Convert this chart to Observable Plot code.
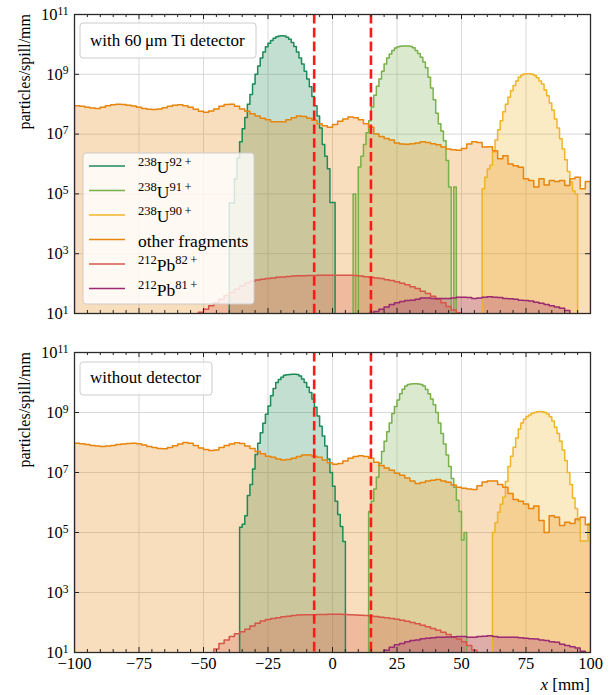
<!DOCTYPE html>
<html>
<head>
<meta charset="utf-8">
<script src="https://cdn.jsdelivr.net/npm/d3@7"></script>
<script src="https://cdn.jsdelivr.net/npm/@observablehq/plot@0.6"></script>
<style>
  html, body { margin: 0; padding: 0; background: #fff; }
  #chart svg { display: block; }
</style>
</head>
<body>
<div id="chart"></div>
<script>
// ---------- axes / ticks ----------
const xMajor = [-100, -75, -50, -25, 0, 25, 50, 75, 100];
const xMinor = [-95, -90, -85, -80, -70, -65, -60, -55, -45, -40, -35, -30, -20, -15, -10, -5,
                5, 10, 15, 20, 30, 35, 40, 45, 55, 60, 65, 70, 80, 85, 90, 95];
const yMajor = [1e1, 1e3, 1e5, 1e7, 1e9, 1e11];
const yGrid = [1e3, 1e5, 1e7, 1e9];
const cutPositions = [-7.1, 14.9];

// ---------- legend ----------
const seriesColors = ["#1f8a5a", "#79b04a", "#f0b429", "#e8850c", "#d6574a", "#9c2a72"];
const legendMass   = ["238", "238", "238", "", "212", "212"];
const legendElem   = ["U", "U", "U", "other fragments", "Pb", "Pb"];
const legendCharge = ["92\u2009+", "91\u2009+", "90\u2009+", "", "82\u2009+", "81\u2009+"];
const panelTitles = ["with 60\u2009\u03bcm Ti detector", "without detector"];

// ---------- data: top panel (with detector) ----------
// 1 mm bins
const topU92Start = -40;
const topU92 = [5e4, 5e4, 3.2e5, 1.6e6, 5.6e6, 1.5e7, 3.6e7, 1e8, 2.1e8, 4.7e8,
  1e9, 1.9e9, 3.5e9, 5.6e9, 8.3e9, 1.1e10, 1.35e10, 1.6e10, 1.8e10, 1.9e10,
  1.95e10, 1.9e10, 1.75e10, 1.5e10, 1.15e10, 8.5e9, 5.6e9, 3.5e9, 2.2e9, 1.26e9,
  7e8, 3.8e8, 1.8e8, 8.9e7, 4e7, 1.6e7, 4.5e6, 1.8e6, 7e5, 5.2e4, 5.2e4];
const topU91Start = 8;
const topU91 = [1e5, 1, 8e5, 1.8e6, 4.5e6, 1.1e7, 2.8e7, 8e7, 2e8, 4e8,
  7e8, 1.26e9, 2.2e9, 3.5e9, 4.8e9, 6.3e9, 7.6e9, 8.3e9, 8.7e9, 8.9e9,
  8.9e9, 8.9e9, 8.5e9, 7.8e9, 6.3e9, 5e9, 3.7e9, 2.6e9, 1.66e9, 8e8,
  3.5e8, 1.4e8, 5e7, 2.2e7, 1.26e7, 6e6, 1.3e6, 1.7e5, 1, 1.7e5];
const topU90Start = 58;
const topU90 = [1.5e5, 3.6e5, 6.8e5, 9e5, 2.5e6, 6.3e6, 1.4e7, 2.8e7, 5.6e7, 1e8,
  1.7e8, 2.8e8, 4.2e8, 6e8, 8e8, 9.5e8, 1.02e9, 1.05e9, 1.05e9, 1e9,
  9.1e8, 7.6e8, 6e8, 4.7e8, 3e8, 1.9e8, 1.1e8, 6.3e7, 3.2e7, 1.6e7,
  7e6, 3.2e6, 1.4e6, 5.6e5, 2.5e5, 1.26e5, 1e5];
// 2 mm bins
const topOtherStart = -100;
const topOther = [8.9e7, 8.5e7, 7.9e7, 7.4e7, 7.2e7, 7.9e7, 8.9e7, 9.5e7, 1e8, 9.8e7,
  9.3e7, 8.7e7, 7.9e7, 7.2e7, 6.8e7, 6.6e7, 6.9e7, 7.6e7, 8.5e7, 9.3e7,
  9.5e7, 8.9e7, 7.9e7, 6.8e7, 5.8e7, 5.4e7, 5.9e7, 6.9e7, 8.5e7, 9.8e7,
  1e8, 8.5e7, 6.9e7, 5.8e7, 4.8e7, 4e7, 3.4e7, 3e7, 2.6e7, 2.6e7,
  2.6e7, 3e7, 3.5e7, 4e7, 3.9e7, 3.4e7, 2.9e7, 2.2e7, 1.9e7, 1.7e7,
  2.1e7, 2.7e7, 3.2e7, 3.7e7, 3.5e7, 3e7, 2.2e7, 1.7e7, 1e7, 8.3e6,
  7.1e6, 6.3e6, 5e6, 4.7e6, 4.6e6, 4.8e6, 5e6, 5.5e6, 5.2e6, 4.8e6,
  4.4e6, 3.7e6, 3.2e6, 3e6, 2.9e6, 3.3e6, 4.7e6, 5.5e6, 5.2e6, 3.7e6,
  3.8e6, 2.8e6, 1.5e6, 1.9e6, 1e6, 8.7e5, 7.8e5, 3.2e5, 2.8e5, 1.7e5,
  3.2e5, 2e5, 2.8e5, 2.6e5, 2.8e5, 1.9e5, 3.2e5, 3.6e5, 1.5e5, 2.6e5];
const topPb82Start = -54;
const topPb82 = [8, 11, 14, 18, 23, 30, 40, 50, 66, 85,
  105, 120, 132, 141, 148, 155, 162, 166, 174, 178,
  182, 182, 186, 186, 190, 190, 190, 190, 190, 190,
  190, 186, 178, 170, 162, 155, 148, 135, 126, 115,
  102, 91, 79, 68, 56, 47, 38, 30, 23, 17,
  13, 10.5, 8];
const topPb81Start = 12;
const topPb81 = [9, 10, 11.7, 14, 16.6, 20, 23, 25, 27, 28,
  30, 33, 33, 32, 32, 32, 32, 33, 35, 35,
  34, 32, 33, 35, 36, 35, 34, 32, 31, 30,
  28, 27, 26, 24, 22, 20, 18, 16.6, 15, 12.6];

// ---------- data: bottom panel (without detector) ----------
const botU92Start = -36;
const botU92 = [1.5e5, 1.9e5, 3.6e5, 1.7e6, 4e6, 1.3e7, 4e7, 9.5e7, 2.1e8, 4.4e8,
  8.7e8, 1.66e9, 3.6e9, 6.3e9, 1e10, 1.26e10, 1.5e10, 1.74e10, 1.8e10, 1.85e10,
  1.9e10, 1.9e10, 1.85e10, 1.66e10, 1.3e10, 1e10, 7e9, 4.6e9, 2.8e9, 1.5e9,
  7.6e8, 3.5e8, 1.66e8, 7.6e7, 2.8e7, 1e7, 3.5e6, 1.1e6, 4e5, 1.6e5, 5e4];
const botU91Start = 14;
const botU91 = [5e5, 1.1e6, 2.8e6, 7e6, 2e7, 5e7, 1.1e8, 2.3e8, 4.5e8, 9.3e8,
  1.6e9, 2.6e9, 4.2e9, 6e9, 7.6e9, 8.5e9, 8.9e9, 9.1e9, 9.1e9, 8.9e9,
  8.5e9, 7.6e9, 5.8e9, 4.2e9, 2.8e9, 1.8e9, 1e9, 4.5e8, 2e8, 8.9e7,
  3.8e7, 1.6e7, 6.3e6, 3.2e6, 1.2e6, 5e5, 5.6e4, 1e5];
const botU90Start = 62;
const botU90 = [1e5, 2.1e5, 4.7e5, 8.7e5, 1.5e6, 5e6, 1.6e7, 3.5e7, 7e7, 1.4e8,
  2.8e8, 4.5e8, 6e8, 7.4e8, 8.3e8, 9.5e8, 1e9, 1.05e9, 1.07e9, 1.05e9,
  1e9, 8.9e8, 7.2e8, 5.2e8, 3.2e8, 2e8, 1.1e8, 5.6e7, 2.5e7, 1e7,
  4e6, 1.4e6, 6.3e5, 2.5e5, 5.2e4, 5.2e4, 5.2e4, 2e5];
const botOtherStart = -100;
const botOther = [9.5e7, 9.1e7, 8.5e7, 7.9e7, 7.6e7, 7.4e7, 7.6e7, 7.9e7, 8.5e7, 8.9e7,
  9.3e7, 9.5e7, 9.1e7, 8.3e7, 7.4e7, 6.8e7, 6.3e7, 6.2e7, 6.8e7, 7.8e7,
  8.9e7, 1e8, 9.5e7, 7.9e7, 6.6e7, 5.8e7, 5.4e7, 5.6e7, 6.8e7, 7.9e7,
  8.9e7, 9.8e7, 9.3e7, 7.6e7, 6.3e7, 5e7, 4.2e7, 3.5e7, 3.2e7, 2.8e7,
  2.6e7, 2.7e7, 3e7, 3.4e7, 3.8e7, 3.8e7, 3.5e7, 3.2e7, 2.6e7, 2.1e7,
  1.9e7, 2e7, 2.4e7, 3e7, 3.4e7, 3.6e7, 3.4e7, 3e7, 2.2e7, 1.7e7,
  1.4e7, 1.2e7, 9.5e6, 8.1e6, 6.6e6, 5.2e6, 4.3e6, 4.6e6, 5.2e6, 5.5e6,
  5.8e6, 5.2e6, 4.7e6, 3.8e6, 3.2e6, 3e6, 2.8e6, 2.7e6, 3.6e6, 4.8e6,
  5.2e6, 5.2e6, 4e6, 3.2e6, 2e6, 1.26e6, 1.1e6, 8.9e5, 6.3e5, 7.6e5,
  2.5e5, 1e5, 3.6e5, 3.2e5, 1.7e5, 2.2e5, 2e5, 2.8e5, 3.2e5, 1.8e5];
const botPb82Start = -48;
const botPb82 = [9, 13, 20, 26, 34, 42, 49, 60, 76, 95,
  112, 126, 135, 145, 155, 162, 170, 178, 182, 182,
  182, 186, 186, 190, 190, 190, 186, 182, 178, 174,
  170, 166, 158, 151, 145, 135, 129, 120, 110, 100,
  91, 81, 72, 63, 55, 47, 40, 33, 28, 23,
  17, 12, 9];
const botPb81Start = 18;
const botPb81 = [9, 12, 15, 18, 20, 23, 25, 26, 29, 30,
  31, 32, 32, 33, 33, 34, 34, 32, 32, 34,
  35, 36, 34, 32, 32, 32, 32, 31, 30, 29,
  28, 26, 25, 23, 22, 19, 17, 15.5, 14, 11];

// ---------- helpers ----------
const FONT = "'Liberation Serif', 'Times New Roman', serif";
const FLOOR = 1; // below the visible range, clipped by the frame

function steps(start, width, values) {
  const pts = [{x: start, y: FLOOR, y0: FLOOR}];
  values.forEach((v, i) => pts.push({x: start + i * width, y: v, y0: FLOOR}));
  const end = start + values.length * width;
  pts.push({x: end, y: values[values.length - 1], y0: FLOOR});
  pts.push({x: end, y: FLOOR, y0: FLOOR});
  return pts;
}

function panel(series, {height, marginTop, marginBottom, showX}) {
  const plotH = height - marginTop - marginBottom;
  const plotW = 612 - 74 - 22;
  const marks = [
    Plot.ruleX(xMajor, {x: d => d, stroke: "#d9d9d9", strokeWidth: 1}),
    Plot.ruleY(yGrid, {y: d => d, stroke: "#d9d9d9", strokeWidth: 1})
  ];
  series.forEach(s => marks.push(Plot.areaY(s.pts, {
    x: "x", y1: "y0", y2: "y", curve: "step-after",
    fill: s.color, fillOpacity: 0.27, clip: true
  })));
  series.forEach(s => marks.push(Plot.lineY(s.pts, {
    x: "x", y: "y", curve: "step-after",
    stroke: s.color, strokeWidth: 1.5, clip: true
  })));
  marks.push(Plot.ruleX(cutPositions, {x: d => d, stroke: "#ff1a1a", strokeWidth: 2.6, strokeDasharray: "9.6,4.2"}));
  // inward ticks
  const tk = {stroke: "#222", strokeWidth: 1};
  marks.push(Plot.tickX(xMajor, {x: d => d, insetTop: plotH - 5, ...tk}));
  marks.push(Plot.tickX(xMajor, {x: d => d, insetBottom: plotH - 5, ...tk}));
  marks.push(Plot.tickX(xMinor, {x: d => d, insetTop: plotH - 3, ...tk}));
  marks.push(Plot.tickX(xMinor, {x: d => d, insetBottom: plotH - 3, ...tk}));
  marks.push(Plot.tickY(yMajor, {y: d => d, insetRight: plotW - 5, ...tk}));
  marks.push(Plot.tickY(yMajor, {y: d => d, insetLeft: plotW - 5, ...tk}));
  marks.push(Plot.frame({stroke: "#2a2a2a", strokeWidth: 1.3}));
  marks.push(Plot.axisY({
    ticks: yMajor, tickSize: 0, tickPadding: 6, label: null,
    tickFormat: d => "10^" + Math.round(Math.log10(d))
  }));
  if (showX) marks.push(Plot.axisX({ticks: xMajor, tickSize: 0, tickPadding: 5, label: null}));
  const svg = Plot.plot({
    width: 612, height, marginTop, marginBottom, marginLeft: 74, marginRight: 22,
    x: {domain: [-100, 100], axis: showX ? undefined : null},
    y: {type: "log", domain: [10, 1e11]},
    style: {fontFamily: FONT, fontSize: "16.5px", background: "white", color: "black", overflow: "visible"},
    marks
  });
  // superscript exponents
  d3.select(svg).selectAll("text").each(function () {
    const m = /^10\^(\d+)$/.exec(this.textContent);
    if (m) {
      this.textContent = "10";
      d3.select(this).append("tspan").attr("dy", "-0.45em").attr("font-size", "0.7em").text(m[1]);
    }
  });
  // y label, anchored at the top of the axis
  d3.select(svg).append("text")
    .attr("transform", `translate(30,${marginTop}) rotate(-90)`)
    .attr("text-anchor", "end").attr("font-family", FONT).attr("font-size", 16)
    .text("particles/spill/mm");
  return svg;
}

function titleBox(svg, text, x, y, w, h, baseline) {
  const g = d3.select(svg).append("g").attr("text-anchor", "start");
  g.append("rect").attr("x", x).attr("y", y).attr("width", w).attr("height", h).attr("rx", 3)
    .attr("fill", "#fff").attr("fill-opacity", 0.8).attr("stroke", "#cccccc");
  g.append("text").attr("x", x + 10).attr("y", baseline).attr("font-family", FONT)
    .attr("font-size", 17).attr("text-anchor", "start").text(text);
}

function legend(svg) {
  const g = d3.select(svg).append("g").attr("font-family", FONT).attr("font-size", 17.5)
    .attr("text-anchor", "start");
  g.append("rect").attr("x", 83).attr("y", 153).attr("width", 171).attr("height", 151).attr("rx", 3)
    .attr("fill", "#fff").attr("fill-opacity", 0.8).attr("stroke", "#cccccc");
  legendElem.forEach((el, i) => {
    const y = 166 + i * 24.5;
    g.append("line").attr("x1", 89).attr("x2", 125).attr("y1", y).attr("y2", y)
      .attr("stroke", seriesColors[i]).attr("stroke-width", 1.5);
    const t = g.append("text").attr("x", 138).attr("y", y + 7).attr("text-anchor", "start");
    if (legendMass[i]) {
      t.append("tspan").attr("font-size", 12.5).attr("dy", -7).text(legendMass[i]);
      t.append("tspan").attr("dy", 7).text(el);
      t.append("tspan").attr("font-size", 12.5).attr("dy", -7).text(legendCharge[i]);
    } else {
      t.text(el);
    }
  });
}

const topSeries = [
  {pts: steps(topU92Start, 1, topU92), color: seriesColors[0]},
  {pts: steps(topU91Start, 1, topU91), color: seriesColors[1]},
  {pts: steps(topU90Start, 1, topU90), color: seriesColors[2]},
  {pts: steps(topOtherStart, 2, topOther), color: seriesColors[3]},
  {pts: steps(topPb82Start, 2, topPb82), color: seriesColors[4]},
  {pts: steps(topPb81Start, 2, topPb81), color: seriesColors[5]}
];
const botSeries = [
  {pts: steps(botU92Start, 1, botU92), color: seriesColors[0]},
  {pts: steps(botU91Start, 1, botU91), color: seriesColors[1]},
  {pts: steps(botU90Start, 1, botU90), color: seriesColors[2]},
  {pts: steps(botOtherStart, 2, botOther), color: seriesColors[3]},
  {pts: steps(botPb82Start, 2, botPb82), color: seriesColors[4]},
  {pts: steps(botPb81Start, 2, botPb81), color: seriesColors[5]}
];

const chart = document.getElementById("chart");
const topSvg = panel(topSeries, {height: 333, marginTop: 14, marginBottom: 20, showX: false});
titleBox(topSvg, panelTitles[0], 80, 23, 176, 35, 46);
legend(topSvg);
chart.appendChild(topSvg);

const botSvg = panel(botSeries, {height: 362, marginTop: 19, marginBottom: 43, showX: true});
titleBox(botSvg, panelTitles[1], 80, 29, 132, 33, 50);
const xl = d3.select(botSvg).append("text").attr("x", 590).attr("y", 357)
  .attr("text-anchor", "end").attr("font-family", FONT).attr("font-size", 17);
xl.append("tspan").attr("font-style", "italic").text("x");
xl.append("tspan").text(" [mm]");
chart.appendChild(botSvg);
</script>
</body>
</html>
